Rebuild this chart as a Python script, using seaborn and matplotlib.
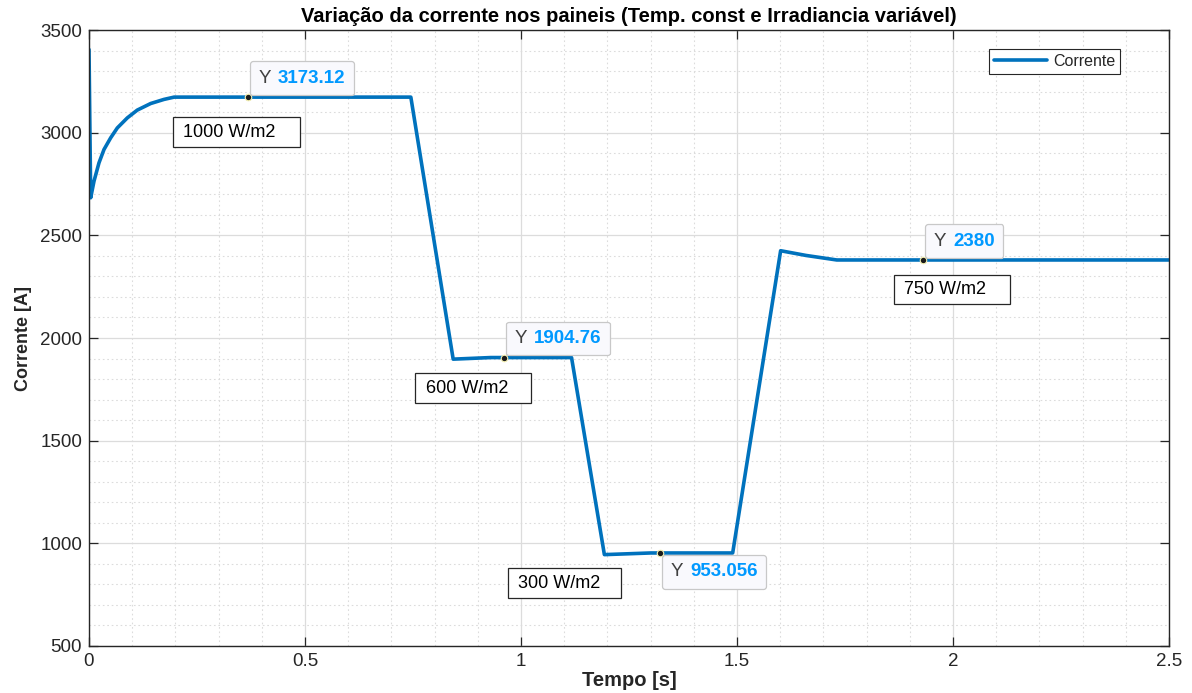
import numpy as np
import pandas as pd
import seaborn as sns
import matplotlib
matplotlib.use("Agg")
import matplotlib.pyplot as plt
from matplotlib.patches import Rectangle
from matplotlib.ticker import MultipleLocator
from matplotlib.offsetbox import TextArea, HPacker, AnnotationBbox

# Simulated panel current (A) over time (s)
tempo = [0.0, 0.0039, 0.0116, 0.0231, 0.0347, 0.0502, 0.0655, 0.0887, 0.1118,
         0.1428, 0.1736, 0.197, 0.745, 0.843, 0.93, 1.117, 1.193, 1.30, 1.490,
         1.601, 1.66, 1.731, 2.5]
corrente = [3405, 2683, 2764, 2853, 2918, 2975, 3023, 3072, 3110,
            3142, 3162, 3173.12, 3173.12, 1897, 1904.76, 1904.76, 945, 953.056, 953.056,
            2425, 2402, 2380, 2380]

# Data tips
tip_t = [0.368, 0.961, 1.322, 1.931]
tip_y = [3173.12, 1904.76, 953.056, 2380]
tip_txt = ["3173.12", "1904.76", "953.056", "2380"]
tip_up = [True, True, False, True]

# Irradiance labels: (left edge t, centre y, text, box width in s)
irr_t = [0.194, 0.755, 0.97, 1.863]
irr_y = [3003, 1756, 806, 2236]
irr_txt = ["1000 W/m2", "600 W/m2", "300 W/m2", "750 W/m2"]
irr_w = [0.294, 0.269, 0.262, 0.268]

df = pd.DataFrame({"Tempo": tempo, "Corrente": corrente})

sns.set_style("white")
plt.rcParams["font.family"] = ["Liberation Sans", "DejaVu Sans"]

fig = plt.figure(figsize=(11.92, 6.93), dpi=100)
ax = fig.add_axes([89 / 1192, 1 - 646 / 693, 1080 / 1192, 616 / 693])

sns.lineplot(data=df, x="Tempo", y="Corrente", ax=ax, color="#0072BD",
             linewidth=2.6, label="Corrente")

ax.set_xlim(0, 2.5)
ax.set_ylim(500, 3500)
ax.xaxis.set_major_locator(MultipleLocator(0.5))
ax.xaxis.set_minor_locator(MultipleLocator(0.1))
ax.yaxis.set_major_locator(MultipleLocator(500))
ax.yaxis.set_minor_locator(MultipleLocator(100))
ax.set_xticks([0, 0.5, 1, 1.5, 2, 2.5], ["0", "0.5", "1", "1.5", "2", "2.5"])

ax.grid(True, which="major", color="#dcdcdc", linewidth=0.9, linestyle="-")
ax.grid(True, which="minor", color="#dcdcdc", linewidth=0.8, linestyle=(0, (1.5, 2.5)))
ax.set_axisbelow(True)

for s in ax.spines.values():
    s.set_visible(True)
    s.set_color("#262626")
    s.set_linewidth(1.0)

ax.tick_params(which="major", direction="in", length=6.5, width=0.9,
               color="#262626", labelcolor="#262626", labelsize=13.5,
               top=True, right=True, bottom=True, left=True)
ax.tick_params(axis="x", which="major", pad=5)
ax.tick_params(axis="y", which="major", pad=5)
ax.tick_params(which="minor", length=0)

ax.set_title("Variação da corrente nos paineis (Temp. const e Irradiancia variável)",
             fontsize=14.5, fontweight="bold", color="#000000", pad=6)
ax.set_xlabel("Tempo [s]", fontsize=14.5, fontweight="bold", color="#262626", labelpad=1)
ax.set_ylabel("Corrente [A]", fontsize=13, fontweight="bold", color="#262626", labelpad=6)

leg = ax.legend(loc="upper right", bbox_to_anchor=(0.9546, 0.969), borderaxespad=0,
                fontsize=11.5, frameon=True, fancybox=False, framealpha=1,
                edgecolor="#262626", handlelength=3.3, handletextpad=0.4,
                borderpad=0.3)
leg.get_frame().set_linewidth(0.8)

# Irradiance text boxes
box_h = 143
for x0, yc, txt, w in zip(irr_t, irr_y, irr_txt, irr_w):
    ax.add_patch(Rectangle((x0, yc - box_h / 2), w, box_h, facecolor="white",
                           edgecolor="#262626", linewidth=0.9, zorder=4))
    ax.text(x0 + 0.024, yc, txt, fontsize=13, color="#000000", ha="left",
            va="center", zorder=5)

# Data tip markers and labels
ax.scatter(tip_t, tip_y, s=22, color="#1a1a1a", edgecolor="#f5f0b0",
           linewidth=0.8, zorder=6)
for t, y, txt, up in zip(tip_t, tip_y, tip_txt, tip_up):
    pk = HPacker(children=[TextArea("Y", textprops=dict(color="#404040", fontsize=13.5)),
                           TextArea(txt, textprops=dict(color="#0099FF", fontsize=13.5,
                                                        fontweight="bold"))],
                 align="baseline", pad=0, sep=5)
    off = 7.5
    ab = AnnotationBbox(pk, (t, y), xybox=(off, off if up else -off),
                        xycoords="data", boxcoords="offset points",
                        box_alignment=(0, 0) if up else (0, 1), fontsize=12,
                        frameon=True, pad=0.5,
                        bboxprops=dict(boxstyle="round,pad=0.5,rounding_size=0.15",
                                       facecolor="#f9f9fd", edgecolor="#c8c8c8",
                                       linewidth=0.9))
    ab.set_zorder(7)
    ax.add_artist(ab)

fig.savefig("out.png", dpi=100)
